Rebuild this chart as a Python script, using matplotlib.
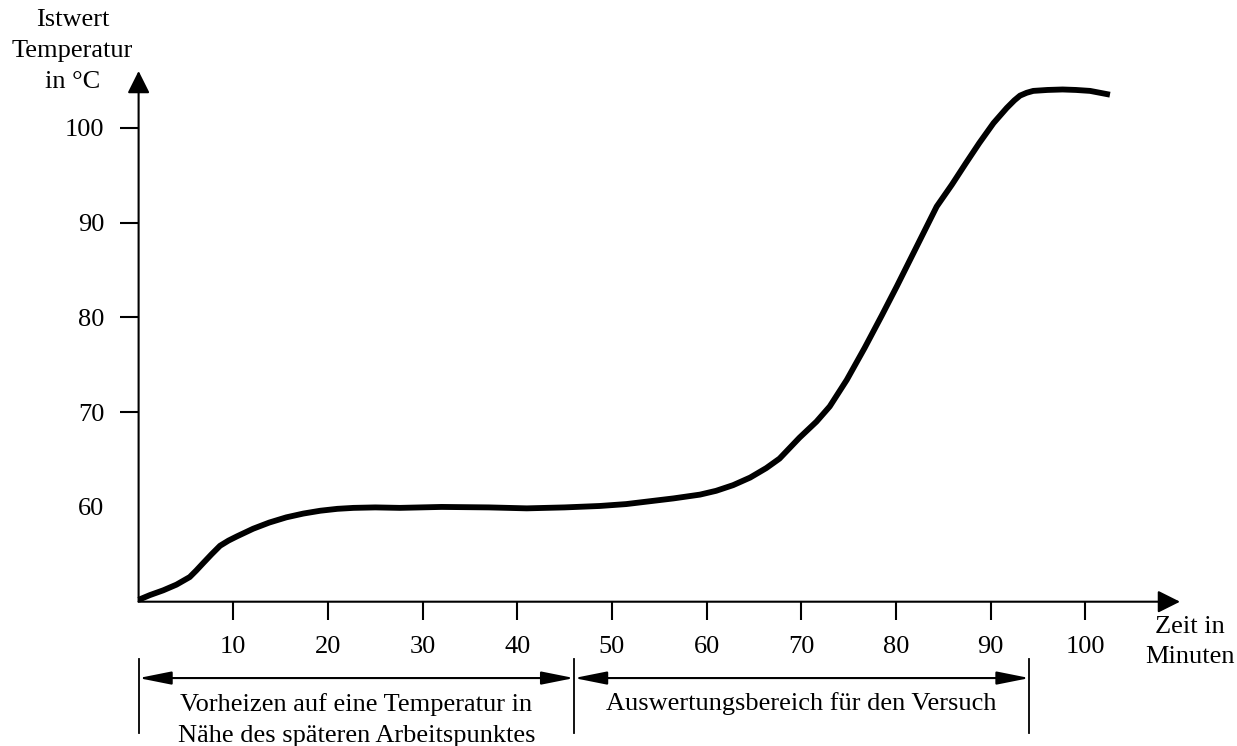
import matplotlib.pyplot as plt

# curve (time in min, temperature in °C)
zeit = [0, 1.2, 2.6, 4, 5.4, 6.1, 6.8, 7.7, 8.6, 9.5, 10.4, 12.1, 13.8, 15.6, 17.4,
        19.2, 21, 22.7, 25, 27.6, 32, 37, 41, 45, 48.7, 51.5, 54, 56.5, 59.3, 61,
        62.8, 64.6, 66.3, 67.7, 69.8, 71.6, 73.0, 74.8, 76.7, 78.5, 80.1, 81.5, 82.9,
        84.3, 85.9, 87.4, 88.8, 90.3, 91.7, 92.5, 93.1, 93.8, 94.5, 96, 97.6, 99,
        100.5, 102.6]
temperatur = [50.2, 50.7, 51.2, 51.8, 52.6, 53.3, 54.05, 55.0, 55.9, 56.45, 56.9, 57.7,
              58.35, 58.9, 59.3, 59.6, 59.8, 59.9, 59.95, 59.9, 60.0, 59.95, 59.85,
              59.95, 60.1, 60.3, 60.6, 60.9, 61.3, 61.7, 62.3, 63.1, 64.1, 65.1, 67.3,
              69.0, 70.6, 73.4, 76.8, 80.2, 83.3, 86.1, 88.9, 91.7, 94.0, 96.3, 98.4,
              100.5, 102.1, 102.9, 103.4, 103.7, 103.9, 104.0, 104.05, 104.0, 103.9,
              103.5]

x_ticks = [10, 20, 30, 40, 50, 60, 70, 80, 90, 100]
y_ticks = [60, 70, 80, 90, 100]

# phase brackets below the time axis
phase_bounds = [0, 46, 94.1]
phase_labels = ["Vorheizen auf eine Temperatur in\nNähe des späteren Arbeitspunktes",
                "Auswertungsbereich für den Versuch"]

plt.rcParams['font.family'] = ['Liberation Serif', 'DejaVu Serif']
plt.rcParams['font.size'] = 19

W, H = 1237, 746
fig = plt.figure(figsize=(W / 100, H / 100), dpi=100)
x0, y0, x1, y1 = 138.6, 601.7, 1180, 71
ax = fig.add_axes([x0 / W, 1 - y0 / H, (x1 - x0) / W, (y0 - y1) / H])
ax.set_xlim(0, 110)
ax.set_ylim(50, 106)
for s in ax.spines.values():
    s.set_visible(False)

# axes with arrow heads
arrow = dict(arrowstyle='-|>,head_length=0.4,head_width=0.2', mutation_scale=34,
             color='black', lw=1.5, shrinkA=0, shrinkB=0)
ax.annotate('', xy=(110, 50), xytext=(0, 50), arrowprops=arrow)
ax.annotate('', xy=(0, 106), xytext=(0, 50), arrowprops=arrow)

ax.set_xticks(x_ticks)
ax.set_yticks(y_ticks)
ax.tick_params(axis='x', direction='out', length=13, width=1.5, pad=12, labelsize=19)
ax.tick_params(axis='y', direction='out', length=13.5, width=1.5, pad=11, labelsize=19)
ax.yaxis.get_major_ticks()[0].tick1line.set_visible(False)

ax.plot(zeit, temperatur, color='black', lw=4.2, solid_capstyle='butt',
        solid_joinstyle='round', clip_on=False)

# brackets
y_arrow = 50 - (678 - y0) / 9.47
y_top = 50 - (659 - y0) / 9.47
y_bot = 50 - (733 - y0) / 9.47
for b in phase_bounds:
    ax.plot([b, b], [y_top, y_bot], color='black', lw=1.3, clip_on=False)
bracket = dict(arrowstyle='<|-|>,head_length=1.0,head_width=0.2', mutation_scale=20,
               color='black', lw=1.5, shrinkA=0, shrinkB=0)
for a, b in zip(phase_bounds[:-1], phase_bounds[1:]):
    ax.annotate('', xy=(b, y_arrow), xytext=(a, y_arrow), arrowprops=bracket,
                annotation_clip=False)

ax.text(23.0, 50 - (720 - y0) / 9.47, phase_labels[0], ha='center', va='center',
        linespacing=1.5, clip_on=False)
ax.text(70.0, 50 - (703 - y0) / 9.47, phase_labels[1], ha='center', va='center',
        clip_on=False)

fig.text(72.5 / W, 1 - 51 / H, "Istwert\nTemperatur\nin °C", ha='center', va='center',
         linespacing=1.5)
fig.text(1190 / W, 1 - 642 / H, "Zeit in\nMinuten", ha='center', va='center',
         linespacing=1.45)

fig.savefig('out.png', dpi=100)
